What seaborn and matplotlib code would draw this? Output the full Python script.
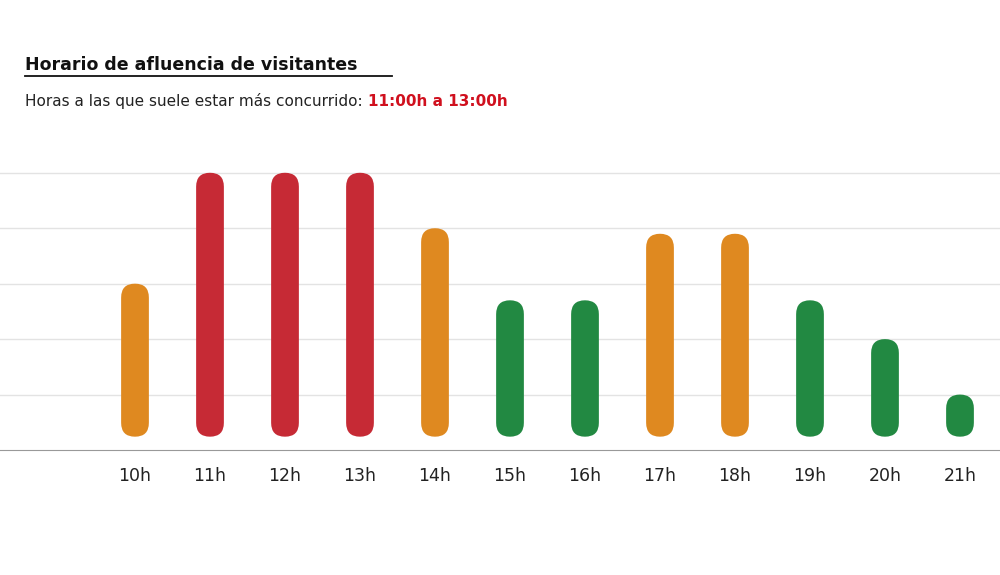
import matplotlib
matplotlib.use("Agg")
import matplotlib.pyplot as plt
import seaborn as sns
import pandas as pd
from matplotlib.patches import FancyBboxPatch
from matplotlib.lines import Line2D

hours = ["10h","11h","12h","13h","14h","15h","16h","17h","18h","19h","20h","21h"]
values = [3.0, 5.0, 5.0, 5.0, 4.0, 2.7, 2.7, 3.9, 3.9, 2.7, 2.0, 1.0]
levels = ["med","high","high","high","med","low","low","med","med","low","low","low"]
palette = {"high": "#E0101F", "med": "#FF8C00", "low": "#119A3B"}
base = 0.24

df = pd.DataFrame({"hour": hours, "value": [v - base for v in values], "level": levels})

fig = plt.figure(figsize=(10, 5.75), dpi=100)
ax = fig.add_axes([0, 1 - 450/575, 1, 280/575])
sns.barplot(data=df, x="hour", y="value", hue="level", palette=palette, dodge=False,
            width=0.37, bottom=base, legend=False, ax=ax)

for p in list(ax.patches):
    x, y = p.get_x(), p.get_y()
    w, h = p.get_width(), p.get_height()
    if h <= 0:
        p.remove(); continue
    fb = FancyBboxPatch((x, y), w, h, boxstyle=f"round,pad=0,rounding_size={w/2}",
                        mutation_aspect=75/55.5, facecolor=p.get_facecolor(),
                        edgecolor="none", zorder=3)
    p.remove()
    ax.add_patch(fb)

ax.set_xlim(-1.8, 11 + 40/75)
ax.set_ylim(0, 5.05)
ax.set_yticks([1, 2, 3, 4, 5])
ax.set_yticklabels([])
ax.tick_params(axis="y", length=0)
ax.tick_params(axis="x", length=0, labelsize=12.5, pad=12, colors="#222222")
ax.grid(axis="y", color="#e3e3e3", linewidth=1)
ax.set_axisbelow(True)
for s in ["top", "right", "left"]:
    ax.spines[s].set_visible(False)
ax.spines["bottom"].set_color("#999999")
ax.set_xlabel(""); ax.set_ylabel("")

fig.text(0.025, 1 - 65/575, "Horario de afluencia de visitantes", fontsize=12.5,
         fontweight="bold", va="center", color="#111111")
fig.add_artist(Line2D([0.025, 0.392], [1 - 76/575]*2, color="#111111", linewidth=1.3))
t1 = fig.text(0.025, 1 - 101/575, "Horas a las que suele estar más concurrido: ",
              fontsize=11, va="center", color="#222222")
fig.canvas.draw()
bb = t1.get_window_extent(fig.canvas.get_renderer())
fig.text(bb.x1 / fig.bbox.width, 1 - 101/575, "11:00h a 13:00h", fontsize=11,
         fontweight="bold", va="center", color="#D0101E")

fig.savefig("out.png", dpi=100)
